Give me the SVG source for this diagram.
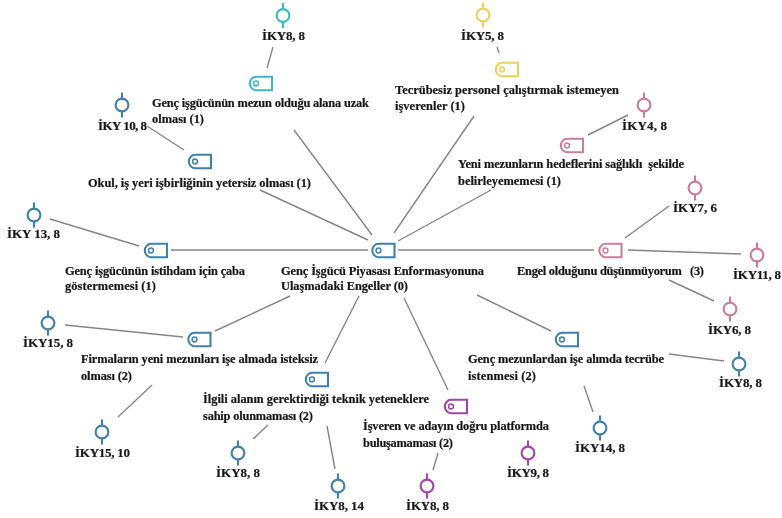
<svg xmlns="http://www.w3.org/2000/svg" width="782" height="518" viewBox="0 0 782 518">
<defs>
<style>
text{font-family:"Liberation Serif","Times New Roman",serif;font-size:12.4px;font-weight:bold;fill:#161616;stroke:#161616;stroke-width:0.2;white-space:pre}
.k text{font-size:13px}
.soft{filter:url(#soft)}
.tag,.leaf{fill:none;stroke:currentColor;stroke-width:2.1}
#connectors line{stroke:#858585;stroke-width:1.4}
.teal{color:#3db8c2}.blue{color:#3f80ad}.yellow{color:#e8d05c}.pink{color:#cb7c9c}.purple{color:#a245ab}
</style>
<filter id="soft" x="-5%" y="-5%" width="110%" height="110%"><feGaussianBlur stdDeviation="0.35"/></filter>
<g id="tag"><path class="tag" d="M7 0.8H23V14.2H7C3.5 14.2 0.8 11 0.8 7.5S3.5 0.8 7 0.8Z"/><circle class="tag" cx="7" cy="7.5" r="2.4" style="stroke-width:1.5"/></g>
<g id="leaf"><circle class="leaf" cx="0" cy="0" r="6.4"/><path class="leaf" d="M0 -12.5V-6.4M0 6.4V12.5"/></g>
</defs>
<rect width="782" height="518" fill="#fff"/>
<g id="connectors" class="soft">
<line x1="273" y1="47" x2="267" y2="68"/>
<line x1="294" y1="130" x2="372" y2="235"/>
<line x1="147" y1="126" x2="184" y2="150"/>
<line x1="260" y1="190" x2="368" y2="240"/>
<line x1="50" y1="219" x2="139" y2="246"/>
<line x1="171" y1="250" x2="368" y2="250"/>
<line x1="497" y1="47" x2="499" y2="53"/>
<line x1="474" y1="116" x2="394" y2="233"/>
<line x1="628" y1="115" x2="588" y2="135"/>
<line x1="491" y1="190" x2="398" y2="241"/>
<line x1="669" y1="206" x2="625" y2="238"/>
<line x1="398" y1="250" x2="594" y2="250"/>
<line x1="628" y1="250" x2="741" y2="254"/>
<line x1="65" y1="325" x2="183" y2="337"/>
<line x1="290" y1="296" x2="215" y2="331"/>
<line x1="359" y1="296" x2="325" y2="363"/>
<line x1="152" y1="385" x2="118" y2="417"/>
<line x1="268" y1="425" x2="253" y2="439"/>
<line x1="327" y1="426" x2="335" y2="469"/>
<line x1="404" y1="298" x2="448" y2="390"/>
<line x1="477" y1="295" x2="551" y2="331"/>
<line x1="669" y1="280" x2="714" y2="301"/>
<line x1="669" y1="354" x2="724" y2="361"/>
<line x1="584" y1="386" x2="593" y2="412"/>
<line x1="438" y1="453" x2="433" y2="470"/>
</g>
<g class="soft">
<g id="root" class="blue"><use href="#tag" x="371.5" y="243"/><text x="281" y="275" textLength="203">Genç İşgücü Piyasası Enformasyonuna</text><text x="281" y="290" textLength="127">Ulaşmadaki Engeller (0)</text></g>
<g id="n-mezun" class="teal"><use href="#tag" x="249" y="76"/><text x="152" y="107" textLength="217">Genç işgücünün mezun olduğu alana uzak</text><text x="152" y="123" textLength="52">olması (1)</text></g>
<g id="n-okul" class="blue"><use href="#tag" x="188" y="154"/><text x="88" y="187" textLength="223">Okul, iş yeri işbirliğinin yetersiz olması (1)</text></g>
<g id="n-caba" class="blue"><use href="#tag" x="144" y="243"/><text x="65" y="275" textLength="180">Genç işgücünün istihdam için çaba</text><text x="65" y="290" textLength="91">göstermemesi (1)</text></g>
<g id="n-tecrubesiz" class="yellow"><use href="#tag" x="495" y="62"/><text x="395" y="94" textLength="224">Tecrübesiz personel çalıştırmak istemeyen</text><text x="395" y="110" textLength="70">işverenler (1)</text></g>
<g id="n-hedef" class="pink"><use href="#tag" x="560" y="138"/><text x="458" y="168" textLength="226">Yeni mezunların hedeflerini sağlıklı  şekilde</text><text x="458" y="185" textLength="103">belirleyememesi (1)</text></g>
<g id="n-engel" class="pink"><use href="#tag" x="598.5" y="243"/><text x="517" y="275" textLength="187">Engel olduğunu düşünmüyorum   (3)</text></g>
<g id="n-firma" class="blue"><use href="#tag" x="187.5" y="332"/><text x="81" y="363" textLength="237">Firmaların yeni mezunları işe almada isteksiz</text><text x="81" y="380" textLength="51">olması (2)</text></g>
<g id="n-teknik" class="blue"><use href="#tag" x="305" y="372"/><text x="203" y="403" textLength="226">İlgili alanın gerektirdiği teknik yeteneklere</text><text x="203" y="420" textLength="110">sahip olunmaması (2)</text></g>
<g id="n-tecrube" class="blue"><use href="#tag" x="555" y="332"/><text x="468" y="363" textLength="196">Genç mezunlardan işe alımda tecrübe</text><text x="468" y="380" textLength="68">istenmesi (2)</text></g>
<g id="n-platform" class="purple"><use href="#tag" x="444" y="399"/><text x="363" y="430" textLength="186">İşveren ve adayın doğru platformda</text><text x="363" y="447" textLength="90">buluşamaması (2)</text></g>
<g id="k1" class="k teal"><use href="#leaf" x="283" y="15.5"/><text x="262" y="40" textLength="43">İKY8, 8</text></g>
<g id="k2" class="k blue"><use href="#leaf" x="122" y="105"/><text x="98" y="130" textLength="49">İKY 10, 8</text></g>
<g id="k3" class="k blue"><use href="#leaf" x="34" y="215"/><text x="7" y="238" textLength="53">İKY 13, 8</text></g>
<g id="k4" class="k yellow"><use href="#leaf" x="483" y="15"/><text x="461" y="40" textLength="43">İKY5, 8</text></g>
<g id="k5" class="k pink"><use href="#leaf" x="644" y="105"/><text x="622" y="130" textLength="45">İKY4, 8</text></g>
<g id="k6" class="k pink"><use href="#leaf" x="695" y="188"/><text x="673" y="212" textLength="44">İKY7, 6</text></g>
<g id="k7" class="k pink"><use href="#leaf" x="757" y="255"/><text x="733" y="279" textLength="48">İKY11, 8</text></g>
<g id="k8" class="k pink"><use href="#leaf" x="730" y="309"/><text x="708" y="334" textLength="43">İKY6, 8</text></g>
<g id="k9" class="k blue"><use href="#leaf" x="739" y="364"/><text x="719" y="387" textLength="43">İKY8, 8</text></g>
<g id="k10" class="k blue"><use href="#leaf" x="600" y="428"/><text x="575" y="452" textLength="50">İKY14, 8</text></g>
<g id="k11" class="k purple"><use href="#leaf" x="528" y="453"/><text x="507" y="477" textLength="42">İKY9, 8</text></g>
<g id="k12" class="k purple"><use href="#leaf" x="427" y="486"/><text x="406" y="510" textLength="43">İKY8, 8</text></g>
<g id="k13" class="k blue"><use href="#leaf" x="338" y="486"/><text x="314" y="510" textLength="50">İKY8, 14</text></g>
<g id="k14" class="k blue"><use href="#leaf" x="238" y="453"/><text x="216" y="477" textLength="44">İKY8, 8</text></g>
<g id="k15" class="k blue"><use href="#leaf" x="102" y="432"/><text x="75" y="457" textLength="55">İKY15, 10</text></g>
<g id="k16" class="k blue"><use href="#leaf" x="48" y="323"/><text x="23" y="347" textLength="50">İKY15, 8</text></g>
</g>
</svg>
